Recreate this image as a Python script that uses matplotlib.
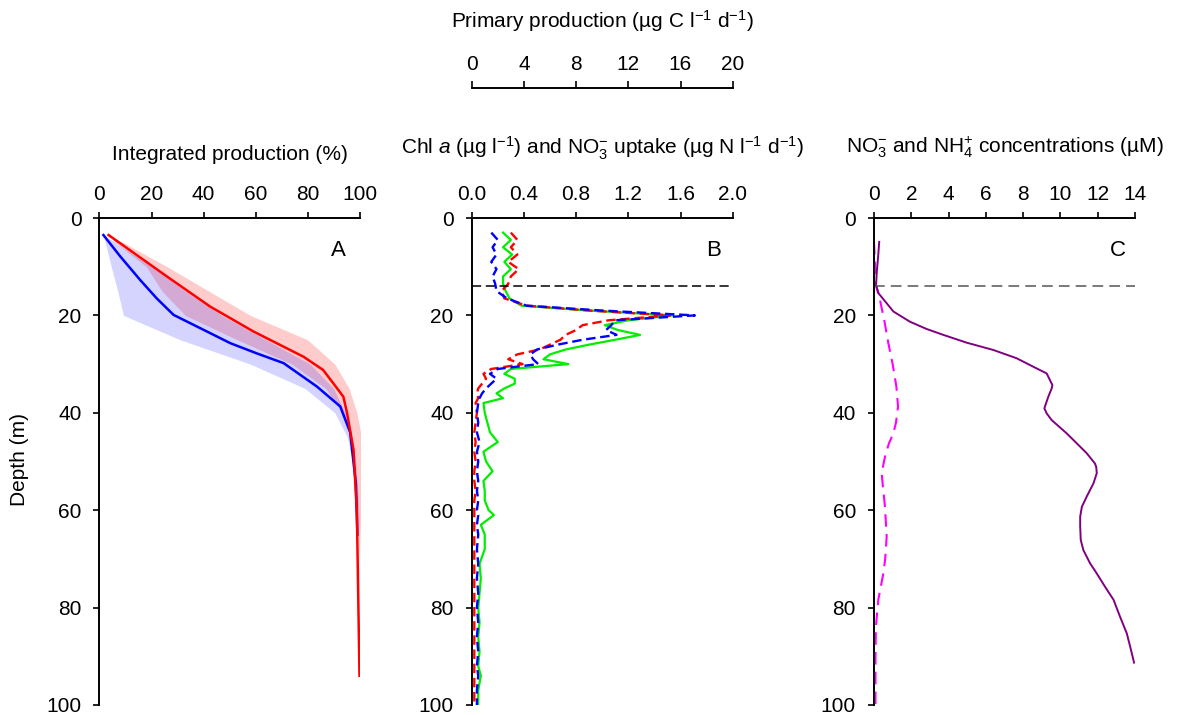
import matplotlib
matplotlib.use('Agg')
import matplotlib.pyplot as plt
import numpy as np

plt.rcParams['font.family'] = ['Liberation Sans', 'DejaVu Sans']
plt.rcParams['mathtext.fontset'] = 'custom'
plt.rcParams['mathtext.rm'] = 'Liberation Sans'
plt.rcParams['mathtext.it'] = 'Liberation Sans:italic'
plt.rcParams['mathtext.bf'] = 'Liberation Sans:bold'

# panel A - integrated production (%)
depth_red = [3.5, 12, 18.2, 23.3, 28.5, 31.2, 34, 36.7, 40, 47.6, 60.6, 94]
red_a = [3.5, 25.9, 42.6, 59.2, 78.5, 86, 90, 93.8, 95.2, 97.7, 99, 100]
depth_blue = [3.5, 7.9, 12.7, 16.5, 19.9, 23.3, 25.7, 27.8, 29.8, 34.6, 38.7, 44, 54.5, 65]
blue_a = [1.5, 8, 15.6, 22, 28.5, 41.3, 50.3, 60.5, 70.8, 83.6, 92.6, 96.4, 98.6, 99.2]

depth_a = [3.5, 5, 10, 15, 20, 25, 30, 35, 40, 45, 50, 55, 60, 65, 70, 80, 94]
red_lo = [3.5, 6, 18, 24, 33, 53, 74, 87, 93.5, 96.5, 97.8, 98.5, 99, 99.5, 99.8, 100, 100]
red_hi = [3.5, 9, 26, 42, 58, 80, 90.5, 96, 99, 100.8, 101.3, 101.2, 100.6, 100.2, 100, 100, 100]
depth_a2 = [3.5, 5, 10, 15, 20, 25, 30, 35, 40, 45, 50, 55, 60, 65]
blue_lo = [1.5, 2.2, 4.5, 7, 9.2, 31, 58, 79, 90.5, 95.3, 97.3, 98.5, 99.3, 100]
blue_hi = [1.5, 6, 20, 33, 47, 64, 81, 90, 94.5, 97, 98.5, 99.2, 99.7, 100]

# panel B - chl a and NO3 uptake
depth_b = [3, 4.5, 6, 7.5, 9, 10.5, 12, 13.5, 15, 16.5, 18, 19, 20, 21, 22, 23, 24, 25,
           26, 27, 28, 29, 30, 31, 32, 33, 34, 35, 36, 37, 38, 40, 42, 44, 46, 48, 50,
           52, 54, 56, 58, 60, 61, 63, 65, 68, 71, 74, 77, 80, 83, 86, 89, 92, 94, 97, 100]
chl = [0.24, 0.30, 0.24, 0.31, 0.25, 0.30, 0.24, 0.24, 0.26, 0.29, 0.38, 0.9, 1.54, 1.2,
       1.02, 1.12, 1.29, 1.1, 0.9, 0.72, 0.6, 0.55, 0.74, 0.3, 0.25, 0.33, 0.33, 0.25,
       0.19, 0.24, 0.09, 0.1, 0.12, 0.14, 0.2, 0.09, 0.11, 0.16, 0.09, 0.1, 0.1, 0.13,
       0.17, 0.07, 0.1, 0.1, 0.06, 0.07, 0.06, 0.05, 0.06, 0.05, 0.06, 0.05, 0.07, 0.05, 0.05]
upt_red = [0.30, 0.35, 0.30, 0.35, 0.28, 0.36, 0.30, 0.28, 0.23, 0.25, 0.42, 0.9, 1.52,
           1.05, 0.85, 0.8, 0.72, 0.68, 0.6, 0.52, 0.35, 0.28, 0.39, 0.15, 0.09, 0.11,
           0.08, 0.05, 0.04, 0.05, 0.03, 0.04, 0.03, 0.02, 0.03, 0.02, 0.03, 0.02, 0.02,
           0.03, 0.02, 0.02, 0.02, 0.02, 0.02, 0.02, 0.02, 0.02, 0.02, 0.02, 0.02, 0.02,
           0.02, 0.02, 0.02, 0.02, 0.02]
upt_blue = [0.15, 0.20, 0.16, 0.19, 0.15, 0.19, 0.16, 0.18, 0.19, 0.27, 0.42, 1.0, 1.71,
            1.1, 1.07, 1.03, 1.11, 0.85, 0.66, 0.5, 0.45, 0.47, 0.51, 0.2, 0.14, 0.19,
            0.15, 0.11, 0.08, 0.06, 0.05, 0.04, 0.05, 0.04, 0.06, 0.04, 0.05, 0.04, 0.05,
            0.04, 0.05, 0.04, 0.05, 0.04, 0.05, 0.04, 0.05, 0.04, 0.05, 0.04, 0.05, 0.04,
            0.05, 0.04, 0.05, 0.04, 0.04]

# panel C - nutrients (uM)
depth_no3 = [4.9, 8, 11, 13.8, 15.5, 17.5, 19.2, 21.3, 22.8, 24, 25.6, 27.1, 28.8, 30.9,
             31.9, 33.3, 34.3, 35, 36.7, 38.7, 39.1, 40.1, 41.5, 44.2, 45.6, 48.3, 50.4,
             51.1, 52.4, 54.5, 57.2, 59.3, 61.3, 63.4, 66.1, 68.2, 70.9, 73, 75.7, 78.4,
             81.9, 85.3, 88, 91.3]
no3 = [0.28, 0.22, 0.15, 0.11, 0.25, 0.68, 1.04, 1.93, 2.83, 3.72, 4.97, 6.4, 7.65, 8.73,
       9.26, 9.44, 9.57, 9.53, 9.35, 9.17, 9.14, 9.26, 9.53, 10.33, 10.7, 11.41, 11.85,
       11.92, 11.95, 11.77, 11.41, 11.15, 11.06, 11.06, 11.09, 11.23, 11.59, 11.95,
       12.39, 12.85, 13.2, 13.56, 13.74, 13.95]
depth_nh4 = [4.9, 9, 13.8, 16.8, 21, 25.7, 30, 34.6, 38.7, 42, 44.2, 46.3, 49, 52.4, 56,
             59.3, 65.4, 70, 73, 78.4, 84, 90, 100]
nh4 = [0.0, 0.05, 0.1, 0.32, 0.55, 0.77, 1.0, 1.2, 1.29, 1.18, 1.04, 0.8, 0.59, 0.41,
       0.5, 0.59, 0.68, 0.6, 0.5, 0.23, 0.1, 0.08, 0.08]

mld = 14
W, H = 1188, 715
fs = 15

fig = plt.figure(figsize=(W / 100, H / 100), dpi=100)


def make_ax(left_px, right_px, xlim, xticks, xticklabels):
    ax = fig.add_axes([left_px / W, 1 - 705 / H, (right_px - left_px) / W, 487 / H])
    ax.set_xlim(xlim)
    ax.set_ylim(100, 0)
    ax.xaxis.tick_top()
    ax.set_xticks(xticks)
    ax.set_xticklabels(xticklabels)
    ax.set_yticks([0, 20, 40, 60, 80, 100])
    for s in ['right', 'bottom']:
        ax.spines[s].set_visible(False)
    for s in ['top', 'left']:
        ax.spines[s].set_linewidth(1.4)
    ax.tick_params(axis='x', direction='out', length=4, width=1.2, pad=6, labelsize=fs)
    ax.tick_params(axis='y', direction='out', length=4, width=1.2, pad=9, labelsize=fs)
    return ax


axA = make_ax(99.5, 359.5, (0, 100), [0, 20, 40, 60, 80, 100],
              ['0', '20', '40', '60', '80', '100'])
axA.fill_betweenx(depth_a, red_lo, red_hi, color='#ff0000', alpha=0.2, lw=0)
axA.fill_betweenx(depth_a2, blue_lo, blue_hi, color='#0000ff', alpha=0.17, lw=0)
axA.plot(blue_a, depth_blue, color='#0000ff', lw=1.8)
axA.plot(red_a, depth_red, color='#ff0000', lw=1.8)
axA.text(0.917, 0.934, 'A', transform=axA.transAxes, fontsize=16, ha='center', va='center')

axB = make_ax(471.7, 732.7, (0, 2.0), [0, 0.4, 0.8, 1.2, 1.6, 2.0],
              ['0.0', '0.4', '0.8', '1.2', '1.6', '2.0'])
axB.plot(chl, depth_b, color='#00ee00', lw=1.6)
axB.plot(upt_red, depth_b, color='#ff0000', lw=1.7, ls=(0, (4, 2)))
axB.plot(upt_blue, depth_b, color='#0000ff', lw=1.7, ls=(0, (4, 2)))
axB.axhline(mld, color='black', lw=1.1, ls=(0, (6, 3)))
axB.text(0.926, 0.934, 'B', transform=axB.transAxes, fontsize=16, ha='center', va='center')

axC = make_ax(874, 1135, (0, 14), [0, 2, 4, 6, 8, 10, 12, 14],
              ['0', '2', '4', '6', '8', '10', '12', '14'])
axC.plot(nh4, depth_nh4, color='#ff00ff', lw=1.5, ls=(0, (6, 3.5)))
axC.plot(no3, depth_no3, color='#800080', lw=1.4)
axC.axhline(mld, color='#555555', lw=1.1, ls=(0, (7, 4)))
axC.text(0.936, 0.934, 'C', transform=axC.transAxes, fontsize=16, ha='center', va='center')

# top axis: primary production
axP = fig.add_axes([471.7 / W, 1 - 88.3 / H, 261 / W, 0.0001])
axP.set_xlim(0, 20)
axP.xaxis.tick_top()
axP.set_xticks([0, 4, 8, 12, 16, 20])
axP.set_yticks([])
for s in ['right', 'bottom', 'left']:
    axP.spines[s].set_visible(False)
axP.spines['top'].set_linewidth(1.4)
axP.tick_params(axis='x', direction='out', length=5, width=1.2, pad=5, labelsize=fs)

fig.text(229.5 / W, 1 - 160 / H, 'Integrated production (%)', fontsize=fs,
         ha='center', va='baseline')
fig.text(602 / W, 1 - 154 / H,
         r'Chl $\mathit{a}$ (µg l$^{-1}$) and NO$_3^{-}$ uptake (µg N l$^{-1}$ d$^{-1}$)',
         fontsize=fs, ha='center', va='baseline')
fig.text(1005 / W, 1 - 152 / H, r'NO$_3^{-}$ and NH$_4^{+}$ concentrations (µM)',
         fontsize=fs, ha='center', va='baseline')
fig.text(602 / W, 1 - 28 / H, r'Primary production (µg C l$^{-1}$ d$^{-1}$)',
         fontsize=fs, ha='center', va='baseline')
fig.text(20 / W, 1 - 460 / H, 'Depth (m)', fontsize=fs, rotation=90,
         ha='center', va='center')

fig.savefig('out.png', dpi=100)
